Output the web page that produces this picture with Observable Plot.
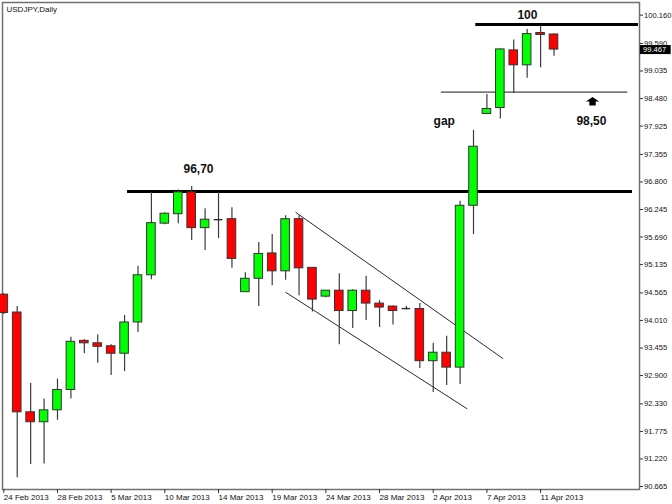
<!DOCTYPE html>
<html><head><meta charset="utf-8">
<script src="https://cdn.jsdelivr.net/npm/d3@7"></script>
<script src="https://cdn.jsdelivr.net/npm/@observablehq/plot@0.6"></script>
<style>body{margin:0;background:#fff} #chart svg{display:block}</style>
</head><body><div id="chart"></div><script>
// Trading days (Sun–Fri bars, MetaTrader style)
const dates = ["24 Feb","25 Feb","26 Feb","27 Feb","28 Feb","1 Mar","3 Mar","4 Mar","5 Mar","6 Mar","7 Mar","8 Mar",
  "10 Mar","11 Mar","12 Mar","13 Mar","14 Mar","15 Mar","17 Mar","18 Mar","19 Mar","20 Mar","21 Mar","22 Mar",
  "24 Mar","25 Mar","26 Mar","27 Mar","28 Mar","29 Mar","31 Mar","1 Apr","2 Apr","3 Apr","4 Apr","5 Apr",
  "7 Apr","8 Apr","9 Apr","10 Apr","11 Apr","12 Apr"];
const open  = [94.53,94.17,92.16,91.96,92.20,92.61,93.60,93.55,93.49,93.34,93.97,94.92,
  95.96,96.15,96.59,95.87,96.04,96.05,94.58,94.85,95.36,95.00,96.05,95.07,
  94.49,94.61,94.20,94.61,94.35,94.29,94.25,94.24,93.19,93.36,93.06,96.32,
  98.17,98.29,99.45,99.15,99.80,99.77];
const high  = [94.55,94.29,92.74,92.43,92.83,93.67,93.62,93.72,93.52,94.11,95.10,96.59,
  96.18,96.64,96.71,96.26,96.59,96.28,94.97,95.58,95.74,96.12,96.12,95.07,
  94.61,94.95,94.63,94.90,94.41,94.30,94.29,94.35,93.55,93.69,96.41,97.84,
  98.56,99.48,99.66,99.87,99.94,99.78];
const low   = [94.13,90.84,91.11,91.12,92.00,92.43,93.34,93.15,92.90,92.98,93.77,94.83,
  95.94,95.96,95.62,95.42,95.66,95.06,94.58,94.29,94.71,94.82,94.51,94.18,
  94.47,93.52,93.85,94.01,93.87,93.92,94.22,93.04,92.56,92.70,92.72,95.74,
  98.17,98.07,98.58,98.89,99.10,99.33];
const close = [94.16,92.16,91.96,92.20,92.61,93.58,93.55,93.48,93.34,93.97,94.92,95.97,
  96.16,96.59,95.87,96.04,96.04,95.25,94.85,95.35,95.00,96.05,95.06,94.43,
  94.61,94.20,94.61,94.35,94.27,94.20,94.25,93.19,93.36,93.06,96.32,97.51,
  98.27,99.47,99.15,99.78,99.76,99.467];

const yTicks = [90.665,91.220,91.775,92.330,92.900,93.455,94.010,94.565,95.135,95.690,96.245,96.800,
  97.355,97.925,98.480,99.035,99.590,100.160];
const xTickIdx = [0,4,8,12,16,20,24,28,32,36,40];
const xTickLabels = ["24 Feb 2013","28 Feb 2013","5 Mar 2013","10 Mar 2013","14 Mar 2013","19 Mar 2013",
  "24 Mar 2013","28 Mar 2013","2 Apr 2013","7 Apr 2013","11 Apr 2013"];

// Drawn support / resistance levels (value, start bar, end bar)
const levelValue = [96.61, 99.97, 98.61];
const levelStart = [9.22, 35.17, 32.6];
const levelEnd   = [46.85, 47.3, 46.5];

// Channel trend lines
const chanX1 = [21.74, 20.99];
const chanY1 = [96.19, 94.58];
const chanX2 = [37.21, 34.53];
const chanY2 = [93.24, 92.23];

// Annotations
const noteText = ["96,70", "100", "98,50", "gap"];
const noteX = [14.51, 39.02, 43.79, 32.82];
const noteY = [97.05, 100.16, 98.03, 98.03];
const arrowX = [43.87];
const arrowY = [98.425];

const title = "USDJPY,Daily";
const lastPrice = close[close.length - 1];

const candles = dates.map((d, i) => ({i, date: d, o: open[i], h: high[i], l: low[i], c: close[i]}));
const levels = levelValue.map((v, k) => ({v, x1: levelStart[k], x2: levelEnd[k], k}));
const channels = chanX1.map((x, k) => ({x1: x, y1: chanY1[k], x2: chanX2[k], y2: chanY2[k]}));
const notes = noteText.map((t, k) => ({t, x: noteX[k], y: noteY[k]}));

const arrowSymbol = {
  draw(ctx, size) {
    const u = Math.sqrt(size / Math.PI) / 6.6;
    ctx.moveTo(0, -4.2 * u);
    ctx.lineTo(6.6 * u, 0.3 * u);
    ctx.lineTo(3.2 * u, 0.3 * u);
    ctx.lineTo(3.2 * u, 4.2 * u);
    ctx.lineTo(-3.2 * u, 4.2 * u);
    ctx.lineTo(-3.2 * u, 0.3 * u);
    ctx.lineTo(-6.6 * u, 0.3 * u);
    ctx.closePath();
  }
};

const bw = 0.32;
const font = "'Liberation Sans', Arial, sans-serif";

const chart = Plot.plot({
  width: 672,
  height: 504,
  marginLeft: 2,
  marginRight: 33,
  marginTop: 2,
  marginBottom: 15,
  style: {fontFamily: font, fontSize: "8px", background: "white", color: "black", overflow: "visible"},
  x: {type: "linear", domain: [-0.097, 47.37], axis: null},
  y: {type: "linear", domain: [90.605, 100.415], axis: null},
  marks: [
    Plot.frame({stroke: "#707070", strokeWidth: 1.5}),
    Plot.axisY({anchor: "right", ticks: yTicks, tickFormat: d => d.toFixed(3), tickSize: 3, tickPadding: 1.5,
      fontSize: 7.6, stroke: "#333", fill: "#111"}),
    Plot.axisX({anchor: "bottom", ticks: xTickIdx, tickFormat: d => xTickLabels[xTickIdx.indexOf(d)],
      tickSize: 4, tickPadding: 1, textAnchor: "start", fontSize: 8, stroke: "#333", fill: "#111", label: null}),
    // current price box
    Plot.ruleY([lastPrice], {x1: 47.44, x2: 49.73, stroke: "black", strokeWidth: 9}),
    Plot.text([lastPrice], {y: d => d, frameAnchor: "right", dx: 3.5, textAnchor: "start", text: d => d.toFixed(3),
      fill: "white", fontSize: 7.6}),
    // levels
    Plot.ruleY(levels.filter(d => d.k < 2), {y: "v", x1: "x1", x2: "x2", stroke: "black", strokeWidth: 3}),
    Plot.ruleY(levels.filter(d => d.k === 2), {y: "v", x1: "x1", x2: "x2", stroke: "#7a7a7a", strokeWidth: 1.7}),
    // channel lines
    Plot.link(channels, {x1: "x1", y1: "y1", x2: "x2", y2: "y2", stroke: "#2a2a2a", strokeWidth: 1}),
    // wicks
    Plot.ruleX(candles, {x: "i", y1: "l", y2: "h", stroke: "#3c3c3c", strokeWidth: 1.2}),
    // bodies
    Plot.rect(candles.filter(d => d.o !== d.c), {
      x1: d => d.i - bw, x2: d => d.i + bw, y1: "o", y2: "c",
      fill: d => d.c > d.o ? "#00ff00" : "#ff0000", stroke: "#333", strokeWidth: 1
    }),
    Plot.ruleY(candles.filter(d => d.o === d.c), {y: "o", x1: d => d.i - bw, x2: d => d.i + bw, stroke: "#222", strokeWidth: 1.3}),
    // annotations
    Plot.text(notes, {x: "x", y: "y", text: "t", fontWeight: "bold", fontSize: 12, fill: "#111"}),
    Plot.dot(arrowX.map((x, k) => ({x, y: arrowY[k]})), {x: "x", y: "y", symbol: arrowSymbol, r: 6.6, fill: "black", stroke: "none"}),
    Plot.text([title], {frameAnchor: "top-left", dx: 4, dy: 4, fontSize: 8, fill: "#111"})
  ]
});
document.getElementById("chart").appendChild(chart);
</script></body></html>
